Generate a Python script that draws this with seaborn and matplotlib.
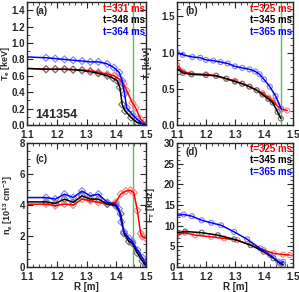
import numpy as np
import pandas as pd
import seaborn as sns
import matplotlib
matplotlib.use("Agg")
import matplotlib.pyplot as plt
from matplotlib.ticker import MultipleLocator

# ---------------- data ----------------
# (a) Te [keV]
a_R_red = [1.10, 1.164, 1.195, 1.226, 1.255, 1.285, 1.313, 1.34, 1.37, 1.392, 1.41, 1.425, 1.435, 1.454, 1.465, 1.482, 1.50]
a_v_red = [0.69, 0.68, 0.68, 0.68, 0.675, 0.67, 0.66, 0.645, 0.62, 0.60, 0.56, 0.50, 0.42, 0.27, 0.21, 0.07, 0.0]
a_R_blk = [1.10, 1.164, 1.195, 1.226, 1.255, 1.285, 1.313, 1.34, 1.37, 1.39, 1.403, 1.412, 1.42, 1.43, 1.45, 1.47, 1.50]
a_v_blk = [0.69, 0.68, 0.68, 0.68, 0.675, 0.665, 0.65, 0.63, 0.60, 0.57, 0.54, 0.46, 0.25, 0.17, 0.09, 0.03, 0.0]
a_R_blu = [1.10, 1.164, 1.195, 1.226, 1.255, 1.285, 1.313, 1.34, 1.37, 1.392, 1.41, 1.42, 1.428, 1.435, 1.454, 1.47, 1.487, 1.50]
a_v_blu = [0.83, 0.82, 0.81, 0.80, 0.79, 0.78, 0.77, 0.77, 0.745, 0.70, 0.64, 0.54, 0.38, 0.21, 0.13, 0.07, 0.02, 0.0]
a_labels = ["t=331 ms", "t=348 ms", "t=364 ms"]

# (b) Ti [keV]
b_R_red = [1.10, 1.12, 1.15, 1.20, 1.235, 1.27, 1.30, 1.325, 1.35, 1.375, 1.395, 1.415, 1.43, 1.445, 1.46, 1.48]
b_v_red = [0.83, 0.74, 0.71, 0.70, 0.68, 0.64, 0.61, 0.57, 0.53, 0.48, 0.44, 0.38, 0.33, 0.27, 0.22, 0.20]
b_R_blk = [1.10, 1.12, 1.15, 1.20, 1.235, 1.27, 1.30, 1.325, 1.35, 1.375, 1.395, 1.415, 1.43, 1.447, 1.458]
b_v_blk = [0.78, 0.72, 0.70, 0.69, 0.68, 0.64, 0.60, 0.57, 0.53, 0.48, 0.42, 0.36, 0.31, 0.18, 0.09]
b_R_blu = [1.10, 1.12, 1.153, 1.18, 1.20, 1.225, 1.25, 1.275, 1.30, 1.325, 1.35, 1.37, 1.385, 1.40, 1.42, 1.44, 1.46]
b_v_blu = [1.0, 0.97, 0.94, 0.93, 0.90, 0.89, 0.87, 0.85, 0.81, 0.79, 0.77, 0.74, 0.70, 0.63, 0.53, 0.40, 0.22]
b_labels = ["t=325 ms", "t=345 ms", "t=365 ms"]

# (c) ne [1e13 cm^-3]
c_R_red = [1.10, 1.164, 1.195, 1.226, 1.255, 1.285, 1.313, 1.34, 1.37, 1.398, 1.415, 1.432, 1.448, 1.459, 1.471, 1.482, 1.488, 1.50]
c_v_red = [4.05, 4.06, 3.96, 4.06, 4.0, 4.38, 4.27, 4.17, 4.06, 4.17, 4.7, 4.9, 4.95, 4.8, 3.64, 2.17, 1.96, 1.85]
c_R_blk = [1.10, 1.164, 1.195, 1.226, 1.255, 1.285, 1.313, 1.34, 1.37, 1.398, 1.415, 1.426, 1.443, 1.454, 1.471, 1.488, 1.50]
c_v_blk = [4.2, 4.2, 4.1, 4.38, 4.17, 4.59, 4.38, 4.38, 4.06, 3.96, 3.43, 2.17, 1.64, 1.54, 0.9, 0.38, 0.05]
c_R_blu = [1.10, 1.164, 1.195, 1.226, 1.255, 1.285, 1.313, 1.34, 1.37, 1.398, 1.409, 1.417, 1.426, 1.443, 1.454, 1.471, 1.488, 1.50]
c_v_blu = [4.48, 4.48, 4.38, 4.7, 4.48, 4.9, 4.59, 4.7, 4.17, 4.06, 3.75, 2.9, 2.27, 1.85, 1.64, 1.1, 0.6, 0.15]

# (d) F_T [kHz]
d_R_red = [1.10, 1.128, 1.162, 1.218, 1.263, 1.308, 1.354, 1.399, 1.433, 1.466, 1.489]
d_v_red = [7.8, 8.3, 7.7, 7.3, 6.9, 6.5, 5.3, 4.1, 3.3, 3.0, 2.9]
d_R_blk = [1.10, 1.128, 1.185, 1.241, 1.297, 1.354, 1.399, 1.433, 1.455, 1.466]
d_v_blk = [8.3, 8.6, 8.3, 7.7, 6.7, 5.3, 3.7, 2.1, 0.9, 0.5]
d_R_blu = [1.10, 1.123, 1.151, 1.185, 1.218, 1.252, 1.297, 1.342, 1.387, 1.421, 1.449, 1.461, 1.466]
d_v_blu = [12.5, 12.7, 12.3, 11.3, 10.7, 10.1, 8.5, 6.7, 4.5, 2.9, 1.3, 0.9, 1.3]
d_labels = ["t=325 ms", "t=345 ms", "t=365 ms"]

shot = "141354"
R_sep = 1.457

# ---------------- style ----------------
sns.set_style("ticks")
plt.rcParams["font.family"] = ["Liberation Sans", "DejaVu Sans"]
plt.rcParams["mathtext.fontset"] = "custom"
plt.rcParams["mathtext.rm"] = "Liberation Sans:bold"
plt.rcParams["mathtext.it"] = "Liberation Sans:bold"
plt.rcParams["mathtext.bf"] = "Liberation Sans:bold"
plt.rcParams["font.weight"] = "bold"
plt.rcParams["axes.labelweight"] = "bold"
plt.rcParams["xtick.direction"] = "in"
plt.rcParams["ytick.direction"] = "in"
FS = 7

line_cols = ["#ff0000", "#000000", "#0000ff"]
mark_cols = ["#ff8080", "#707070", "#8080ff"]

fig = plt.figure(figsize=(2.99, 2.92), dpi=100)
W, H = 299, 292

def add_ax(x0, x1, ytop, ybot):
    return fig.add_axes([x0 / W, 1 - ybot / H, (x1 - x0) / W, (ybot - ytop) / H])

axA = add_ax(27, 146, 2, 125)
axB = add_ax(177, 293, 2, 125)
axC = add_ax(27, 146, 143, 267)
axD = add_ax(177, 293, 143, 267)

panels = [
    (axA, [(a_R_red, a_v_red), (a_R_blk, a_v_blk), (a_R_blu, a_v_blu)], a_labels, "(a)",
     "T$_e$ [keV]", (0, 1.5), 0.2, 0.1, "D", True, 0.93, -0.125),
    (axB, [(b_R_red, b_v_red), (b_R_blk, b_v_blk), (b_R_blu, b_v_blu)], b_labels, "(b)",
     "T$_i$ [keV]", (0, 1.7), 0.5, 0.1, "o", True, 0.93, -0.2),
    (axC, [(c_R_red, c_v_red), (c_R_blk, c_v_blk), (c_R_blu, c_v_blu)], None, "(c)",
     "n$_e$ [10$^{13}$ cm$^{-3}$]", (0, 8), 2, 0.5, "D", True, 0.87, -0.105),
    (axD, [(d_R_red, d_v_red), (d_R_blk, d_v_blk), (d_R_blu, d_v_blu)], d_labels, "(d)",
     "F$_T$ [kHz]", (0, 30), 5, 1, "o", False, 0.93, -0.17),
]

for ax, series, labels, tag, ylab, ylim, ymaj, ymin, mk, green, tagy, labx in panels:
    if green:
        ax.axvline(R_sep, color="#55c055", lw=1.0, zorder=1)
    for i, (R, v) in enumerate(series):
        df = pd.DataFrame({"R": R, "v": v})
        mdf = df[df["R"] > 1.12] if mk == "D" else df
        sns.scatterplot(data=mdf, x="R", y="v", ax=ax, marker=mk, s=13,
                        facecolor="none", edgecolor=mark_cols[i], linewidth=0.8,
                        zorder=2, legend=False)
        sns.lineplot(data=df, x="R", y="v", ax=ax, color=line_cols[i], lw=1.1,
                     sort=False, estimator=None, zorder=3, legend=False)
    ax.set_xlim(1.1, 1.5)
    ax.set_ylim(*ylim)
    ax.xaxis.set_major_locator(MultipleLocator(0.1))
    ax.xaxis.set_minor_locator(MultipleLocator(0.02))
    ax.yaxis.set_major_locator(MultipleLocator(ymaj))
    ax.yaxis.set_minor_locator(MultipleLocator(ymin))
    ax.tick_params(which="both", top=True, right=True, labelsize=FS)
    ax.tick_params(axis="x", pad=3.5)
    ax.tick_params(axis="y", pad=1.5)
    ax.tick_params(which="major", length=4, width=0.8)
    ax.tick_params(which="minor", length=2, width=0.6)
    for s in ax.spines.values():
        s.set_linewidth(1.0)
    ax.set_ylabel(ylab, fontsize=6.5)
    ax.yaxis.set_label_coords(labx, 0.5)
    ax.set_xlabel("")
    ax.text(0.07, tagy, tag, transform=ax.transAxes, fontsize=FS, fontweight="bold",
            ha="left", va="center")
    if labels:
        ys = [0.94, 0.85, 0.755] if tag != "(d)" else [0.955, 0.86, 0.77]
        for lbl, c, yy in zip(labels, line_cols, ys):
            ax.text(0.995, yy, lbl, transform=ax.transAxes, color=c, fontsize=FS,
                    fontweight="bold", ha="right", va="center")

axC.set_xlabel("R [m]", fontsize=FS, labelpad=0)
axD.set_xlabel("R [m]", fontsize=FS, labelpad=0)
axA.text(0.07, 0.08, shot, transform=axA.transAxes, fontsize=9, fontweight="bold",
         ha="left", va="center")

fig.canvas.draw()
for ax in [axA, axB, axC, axD]:
    for lab in ax.get_xticklabels() + ax.get_yticklabels():
        lab.set_fontweight("bold")

fig.savefig("out.png", dpi=100)
